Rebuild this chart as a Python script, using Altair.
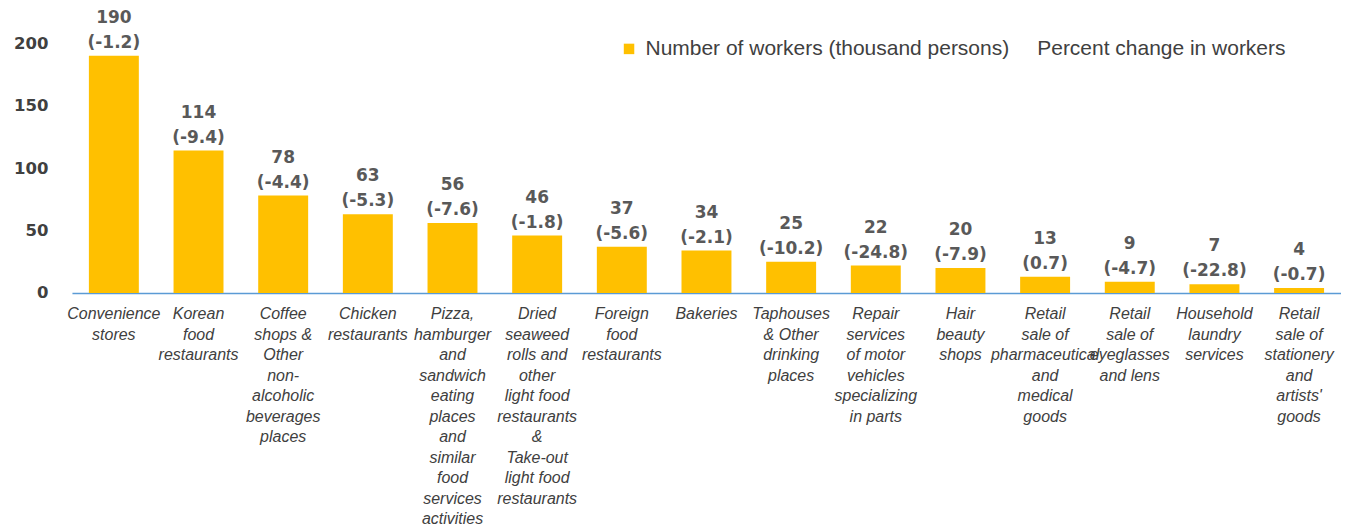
import altair as alt
import pandas as pd

categories = [
    "Convenience|stores",
    "Korean|food|restaurants",
    "Coffee|shops &|Other|non-|alcoholic|beverages|places",
    "Chicken|restaurants",
    "Pizza,|hamburger|and|sandwich|eating|places|and|similar|food|services|activities",
    "Dried|seaweed|rolls and|other|light food|restaurants|&|Take-out|light food|restaurants",
    "Foreign|food|restaurants",
    "Bakeries",
    "Taphouses|& Other|drinking|places",
    "Repair|services|of motor|vehicles|specializing|in parts",
    "Hair|beauty|shops",
    "Retail|sale of|pharmaceutical|and|medical|goods",
    "Retail|sale of|eyeglasses|and lens",
    "Household|laundry|services",
    "Retail|sale of|stationery|and|artists'|goods",
]
workers = [190, 114, 78, 63, 56, 46, 37, 34, 25, 22, 20, 13, 9, 7, 4]
pct_change = ["-1.2", "-9.4", "-4.4", "-5.3", "-7.6", "-1.8", "-5.6", "-2.1",
              "-10.2", "-24.8", "-7.9", "0.7", "-4.7", "-22.8", "-0.7"]
series = ["Number of workers (thousand persons)", "Percent change in workers"]

df = pd.DataFrame({
    "cat": categories,
    "workers": workers,
    "pct": pct_change,
    "series": series[0],
})
df["line1"] = df["workers"].astype(str)
df["line2"] = "(" + df["pct"] + ")"

x = alt.X("cat:N", sort=categories, title=None,
          scale=alt.Scale(paddingInner=0.41, paddingOuter=0.2),
          axis=alt.Axis(labelExpr="split(datum.value, '|')", labelAngle=0,
                        labelFont="Liberation Sans", labelFontStyle="italic",
                        labelFontSize=16, labelLineHeight=20.5, labelColor="#404040",
                        labelPadding=13, labelLimit=300, labelOverlap=False,
                        ticks=False, domainColor="#5B9BD5", domainWidth=1.5,
                        labelBaseline="top"))

bars = alt.Chart(df).mark_bar().encode(
    x=x,
    y=alt.Y("workers:Q", title=None,
            scale=alt.Scale(domain=[0, 200]),
            axis=alt.Axis(values=[0, 50, 100, 150, 200], grid=False, ticks=False,
                          domain=False, labelFont="DejaVu Sans", labelFontWeight="bold",
                          labelFontSize=16.5, labelColor="#404040", labelPadding=24)),
    color=alt.Color("series:N", title=None,
                    scale=alt.Scale(domain=series, range=["#FFC000", "transparent"]),
                    legend=alt.Legend(orient="none", legendX=547, legendY=-5,
                                      direction="horizontal", symbolType="square",
                                      symbolSize=110, labelFont="Liberation Sans",
                                      labelFontSize=21, labelColor="#404040",
                                      labelLimit=500, columnPadding=0,
                                      labelOffset=6)),
)

text_style = dict(font="DejaVu Sans", fontWeight="bold", fontSize=17,
                  color="#595959", baseline="bottom")

labels_pct = alt.Chart(df).mark_text(dy=-4, **text_style).encode(
    x=alt.X("cat:N", sort=categories),
    y="workers:Q",
    text="line2:N",
)
labels_val = alt.Chart(df).mark_text(dy=-29, **text_style).encode(
    x=alt.X("cat:N", sort=categories),
    y="workers:Q",
    text="line1:N",
)

chart = alt.layer(bars, labels_pct, labels_val).properties(
    width=1270, height=250,
    padding={"left": 5, "top": 0, "right": 0, "bottom": 0},
).configure_view(stroke=None)

chart.save("out.html", embed_options={"renderer": "svg", "actions": False})
